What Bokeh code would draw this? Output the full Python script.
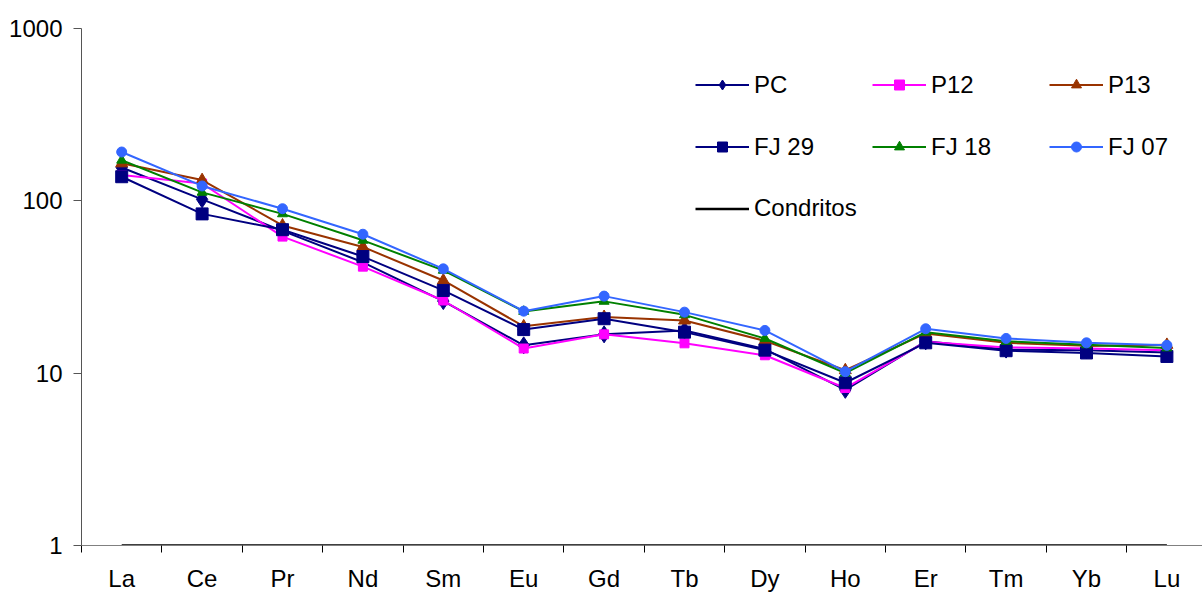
from bokeh.plotting import figure
from bokeh.models import Range1d, FixedTicker, Legend, LegendItem, ColumnDataSource
from bokeh.embed import file_html
from bokeh.resources import INLINE

elements = ["La", "Ce", "Pr", "Nd", "Sm", "Eu", "Gd", "Tb", "Dy", "Ho", "Er", "Tm", "Yb", "Lu"]
pc    = [156, 102, 67, 44, 26.2, 14.5, 16.8, 17.7, 13.8, 8.0, 15.3, 13.7, 13.6, 13.2]
p12   = [141, 126, 62, 41.5, 26.4, 13.9, 16.8, 14.9, 12.7, 8.2, 15.2, 14.1, 13.9, 13.6]
p13   = [165, 132, 72, 54, 34.5, 18.7, 21.2, 20.2, 15.4, 10.4, 17.0, 15.0, 14.4, 14.6]
fj29  = [138, 84, 68, 47.5, 30.2, 17.9, 20.7, 17.3, 13.6, 8.8, 15.0, 13.5, 13.1, 12.5]
fj18  = [172, 112, 84, 59, 39.5, 22.8, 26.1, 21.8, 15.9, 10.0, 17.3, 15.3, 14.6, 14.0]
fj07  = [192, 122, 90, 64, 40.3, 22.9, 28.0, 22.6, 17.7, 10.2, 18.1, 15.9, 15.0, 14.5]
condritos = [1] * 14
y_ticks = [1, 10, 100, 1000]

xpos = list(range(1, len(elements) + 1))

p = figure(width=1202, height=594, y_axis_type="log",
           output_backend="svg", toolbar_location=None,
           x_range=Range1d(0.5, 0.5 + 1121 / 80.4), y_range=Range1d(1, 1000),
           min_border_left=81, min_border_right=0, min_border_top=28, min_border_bottom=47)
p.outline_line_color = None
p.xgrid.visible = False
p.ygrid.visible = False

FONT = "Liberation Sans"
axis_col = "#555555"

# x axis
xa = p.xaxis[0]
xa.ticker = FixedTicker(ticks=xpos, minor_ticks=[i + 0.5 for i in range(0, len(elements))])
xa.major_label_overrides = {i: e for i, e in zip(xpos, elements)}
xa.major_tick_in = 0
xa.major_tick_out = 0
xa.minor_tick_in = 0
xa.minor_tick_out = 7
xa.minor_tick_line_color = "#000000"
xa.axis_line_color = "#808080"
xa.major_label_text_font = FONT
xa.major_label_text_font_size = "24px"
xa.major_label_text_color = "#000000"
xa.major_label_standoff = 12

# y axis
ya = p.yaxis[0]
ya.ticker = FixedTicker(ticks=y_ticks, minor_ticks=[])
ya.major_label_overrides = {t: str(t) for t in y_ticks}
ya.major_tick_in = 0
ya.major_tick_out = 8
ya.minor_tick_in = 0
ya.minor_tick_out = 0
ya.axis_line_color = axis_col
ya.major_tick_line_color = axis_col
ya.major_label_text_font = FONT
ya.major_label_text_font_size = "24px"
ya.major_label_text_color = "#000000"
ya.major_label_standoff = 11

series = [
    ("PC", pc, "#000080", "diamond", 17),
    ("P12", p12, "#FF00FF", "square", 9),
    ("P13", p13, "#993300", "triangle", 12),
    ("FJ 29", fj29, "#000080", "square", 12),
    ("FJ 18", fj18, "#008000", "triangle", 10),
    ("FJ 07", fj07, "#3366FF", "circle", 10),
]

items = {}
for name, vals, col, marker, size in series:
    src = ColumnDataSource(dict(x=xpos, y=vals))
    ln = p.line("x", "y", source=src, line_color=col, line_width=2)
    sc = p.scatter("x", "y", source=src, marker=marker, size=size,
                   fill_color=col, line_color=col)
    items[name] = LegendItem(label=name, renderers=[ln, sc])

csrc = ColumnDataSource(dict(x=xpos, y=condritos))
cl = p.line("x", "y", source=csrc, line_color="#000000", line_width=2.5)
items["Condritos"] = LegendItem(label="Condritos", renderers=[cl])

common = dict(glyph_width=54, glyph_height=25, label_height=25, label_width=84,
              label_standoff=5, spacing=34, padding=0, margin=0,
              border_line_color=None, background_fill_alpha=0,
              label_text_font=FONT, label_text_font_size="24px",
              label_text_color="#000000")

legend_a = Legend(items=[items[k] for k in ["PC", "P12", "P13", "FJ 29", "FJ 18", "FJ 07"]],
                  location=(614, 384.5), orientation="horizontal", nrows=2, ncols=3, **common)
legend_b = Legend(items=[items["Condritos"]], location=(614, 323), **common)
p.add_layout(legend_a)
p.add_layout(legend_b)

open("out.html", "w").write(file_html(p, INLINE))
